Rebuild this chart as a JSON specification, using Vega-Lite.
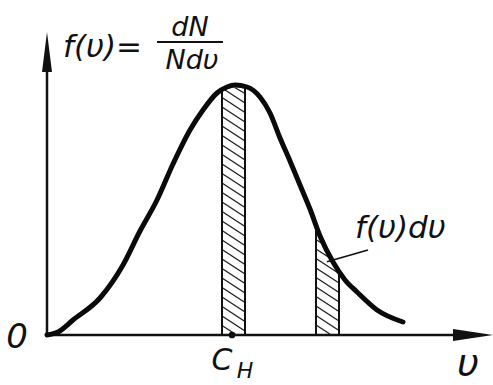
{
  "$schema": "https://vega.github.io/schema/vega-lite/v6.json",
  "width": 493,
  "height": 385,
  "autosize": "none",
  "padding": 0,
  "background": "white",
  "config": {"view": {"stroke": null}},
  "datasets": {
    "curve": [
      {"v": 0, "f": 0}, {"v": 0.275, "f": 0.012}, {"v": 0.65, "f": 0.06}, {"v": 1.325, "f": 0.148},
      {"v": 1.9, "f": 0.28}, {"v": 2.325, "f": 0.416}, {"v": 2.75, "f": 0.54}, {"v": 3.15, "f": 0.684},
      {"v": 3.575, "f": 0.82}, {"v": 3.9, "f": 0.9}, {"v": 4.25, "f": 0.968}, {"v": 4.5, "f": 0.992},
      {"v": 4.7, "f": 1.0}, {"v": 5.0, "f": 0.992}, {"v": 5.325, "f": 0.952}, {"v": 5.575, "f": 0.888},
      {"v": 5.825, "f": 0.788}, {"v": 6.075, "f": 0.696}, {"v": 6.325, "f": 0.6}, {"v": 6.575, "f": 0.504},
      {"v": 6.825, "f": 0.396}, {"v": 7.15, "f": 0.292}, {"v": 7.45, "f": 0.22}, {"v": 7.75, "f": 0.172},
      {"v": 8.25, "f": 0.1}, {"v": 8.9, "f": 0.052}
    ],
    "edges": [
      {"v": 4.375, "f": 0, "f2": 0.985},
      {"v": 4.95, "f": 0, "f2": 0.99},
      {"v": 6.725, "f": 0, "f2": 0.42},
      {"v": 7.3, "f": 0, "f2": 0.255}
    ],
    "hatch": [
      {"v": 4.69, "f": 0.99, "v2": 4.95, "f2": 0.966},
      {"v": 4.375, "f": 0.988, "v2": 4.95, "f2": 0.928},
      {"v": 4.375, "f": 0.95, "v2": 4.95, "f2": 0.89},
      {"v": 4.375, "f": 0.912, "v2": 4.95, "f2": 0.852},
      {"v": 4.375, "f": 0.874, "v2": 4.95, "f2": 0.814},
      {"v": 4.375, "f": 0.836, "v2": 4.95, "f2": 0.776},
      {"v": 4.375, "f": 0.798, "v2": 4.95, "f2": 0.738},
      {"v": 4.375, "f": 0.76, "v2": 4.95, "f2": 0.7},
      {"v": 4.375, "f": 0.722, "v2": 4.95, "f2": 0.662},
      {"v": 4.375, "f": 0.684, "v2": 4.95, "f2": 0.624},
      {"v": 4.375, "f": 0.646, "v2": 4.95, "f2": 0.586},
      {"v": 4.375, "f": 0.608, "v2": 4.95, "f2": 0.548},
      {"v": 4.375, "f": 0.57, "v2": 4.95, "f2": 0.51},
      {"v": 4.375, "f": 0.532, "v2": 4.95, "f2": 0.472},
      {"v": 4.375, "f": 0.494, "v2": 4.95, "f2": 0.434},
      {"v": 4.375, "f": 0.456, "v2": 4.95, "f2": 0.396},
      {"v": 4.375, "f": 0.418, "v2": 4.95, "f2": 0.358},
      {"v": 4.375, "f": 0.38, "v2": 4.95, "f2": 0.32},
      {"v": 4.375, "f": 0.342, "v2": 4.95, "f2": 0.282},
      {"v": 4.375, "f": 0.304, "v2": 4.95, "f2": 0.244},
      {"v": 4.375, "f": 0.266, "v2": 4.95, "f2": 0.206},
      {"v": 4.375, "f": 0.228, "v2": 4.95, "f2": 0.168},
      {"v": 4.375, "f": 0.19, "v2": 4.95, "f2": 0.13},
      {"v": 4.375, "f": 0.152, "v2": 4.95, "f2": 0.092},
      {"v": 4.375, "f": 0.114, "v2": 4.95, "f2": 0.054},
      {"v": 4.375, "f": 0.076, "v2": 4.95, "f2": 0.016},
      {"v": 4.375, "f": 0.038, "v2": 4.74, "f2": 0},
      {"v": 6.725, "f": 0.42, "v2": 6.814, "f2": 0.411},
      {"v": 6.725, "f": 0.382, "v2": 6.991, "f2": 0.354},
      {"v": 6.725, "f": 0.344, "v2": 7.169, "f2": 0.298},
      {"v": 6.725, "f": 0.306, "v2": 7.3, "f2": 0.246},
      {"v": 6.725, "f": 0.268, "v2": 7.3, "f2": 0.208},
      {"v": 6.725, "f": 0.23, "v2": 7.3, "f2": 0.17},
      {"v": 6.725, "f": 0.192, "v2": 7.3, "f2": 0.132},
      {"v": 6.725, "f": 0.154, "v2": 7.3, "f2": 0.094},
      {"v": 6.725, "f": 0.116, "v2": 7.3, "f2": 0.056},
      {"v": 6.725, "f": 0.078, "v2": 7.3, "f2": 0.018},
      {"v": 6.725, "f": 0.04, "v2": 7.11, "f2": 0}
    ],
    "axes": [
      {"v": 0, "f": 0, "v2": 10.575, "f2": 0},
      {"v": 0, "f": 0, "v2": 0, "f2": 1.1}
    ],
    "thin": [
      {"v": 7.0, "f": 0.293, "v2": 8.025, "f2": 0.34},
      {"v": 2.75, "f": 1.172, "v2": 4.4, "f2": 1.172}
    ],
    "xarrow": [{"v": 10.65, "f": 0}],
    "yarrow": [{"v": 0, "f": 1.132}],
    "dot": [{"v": 4.625, "f": 0}],
    "bigtext": [
      {"label": "f(υ)=", "v": 0.4, "f": 1.148},
      {"label": "f(υ)dυ", "v": 7.7, "f": 0.424}
    ],
    "fractext": [
      {"label": "dN", "v": 3.575, "f": 1.228},
      {"label": "Ndυ", "v": 3.625, "f": 1.096}
    ],
    "zero": [{"label": "0", "v": -0.75, "f": -0.012}],
    "cmain": [{"label": "C", "v": 4.375, "f": -0.104}],
    "csub": [{"label": "H", "v": 4.95, "f": -0.144}],
    "vlabel": [{"label": "υ", "v": 10.525, "f": -0.116}]
  },
  "layer": [
    {
      "data": {"name": "axes"},
      "mark": {"type": "rule", "strokeWidth": 2.5, "color": "#111"},
      "encoding": {
        "x": {"field": "v", "type": "quantitative", "scale": {"domain": [-1.175, 11.15], "nice": false, "zero": false}, "axis": null},
        "y": {"field": "f", "type": "quantitative", "scale": {"domain": [-0.2, 1.34], "nice": false, "zero": false}, "axis": null},
        "x2": {"field": "v2"},
        "y2": {"field": "f2"}
      }
    },
    {
      "data": {"name": "hatch"},
      "mark": {"type": "rule", "strokeWidth": 1.4, "color": "#222"},
      "encoding": {
        "x": {"field": "v", "type": "quantitative", "scale": {"domain": [-1.175, 11.15], "nice": false, "zero": false}, "axis": null},
        "y": {"field": "f", "type": "quantitative", "scale": {"domain": [-0.2, 1.34], "nice": false, "zero": false}, "axis": null},
        "x2": {"field": "v2"},
        "y2": {"field": "f2"}
      }
    },
    {
      "data": {"name": "edges"},
      "mark": {"type": "rule", "strokeWidth": 2, "color": "#111"},
      "encoding": {
        "x": {"field": "v", "type": "quantitative", "scale": {"domain": [-1.175, 11.15], "nice": false, "zero": false}, "axis": null},
        "y": {"field": "f", "type": "quantitative", "scale": {"domain": [-0.2, 1.34], "nice": false, "zero": false}, "axis": null},
        "y2": {"field": "f2"}
      }
    },
    {
      "data": {"name": "thin"},
      "mark": {"type": "rule", "strokeWidth": 1.8, "color": "#111"},
      "encoding": {
        "x": {"field": "v", "type": "quantitative", "scale": {"domain": [-1.175, 11.15], "nice": false, "zero": false}, "axis": null},
        "y": {"field": "f", "type": "quantitative", "scale": {"domain": [-0.2, 1.34], "nice": false, "zero": false}, "axis": null},
        "x2": {"field": "v2"},
        "y2": {"field": "f2"}
      }
    },
    {
      "data": {"name": "curve"},
      "mark": {"type": "line", "strokeWidth": 5, "color": "#0a0a0a", "interpolate": "monotone", "strokeCap": "round"},
      "encoding": {
        "x": {"field": "v", "type": "quantitative", "scale": {"domain": [-1.175, 11.15], "nice": false, "zero": false}, "axis": null},
        "y": {"field": "f", "type": "quantitative", "scale": {"domain": [-0.2, 1.34], "nice": false, "zero": false}, "axis": null}
      }
    },
    {
      "data": {"name": "xarrow"},
      "mark": {"type": "point", "shape": "M1,0L-1,-0.3L-1,0.3Z", "size": 1600, "filled": true, "color": "#111", "opacity": 1},
      "encoding": {
        "x": {"field": "v", "type": "quantitative", "scale": {"domain": [-1.175, 11.15], "nice": false, "zero": false}, "axis": null},
        "y": {"field": "f", "type": "quantitative", "scale": {"domain": [-0.2, 1.34], "nice": false, "zero": false}, "axis": null}
      }
    },
    {
      "data": {"name": "yarrow"},
      "mark": {"type": "point", "shape": "M0,-1L0.25,1L-0.25,1Z", "size": 1600, "filled": true, "color": "#111", "opacity": 1},
      "encoding": {
        "x": {"field": "v", "type": "quantitative", "scale": {"domain": [-1.175, 11.15], "nice": false, "zero": false}, "axis": null},
        "y": {"field": "f", "type": "quantitative", "scale": {"domain": [-0.2, 1.34], "nice": false, "zero": false}, "axis": null}
      }
    },
    {
      "data": {"name": "dot"},
      "mark": {"type": "point", "shape": "circle", "size": 45, "filled": true, "color": "#111", "opacity": 1},
      "encoding": {
        "x": {"field": "v", "type": "quantitative", "scale": {"domain": [-1.175, 11.15], "nice": false, "zero": false}, "axis": null},
        "y": {"field": "f", "type": "quantitative", "scale": {"domain": [-0.2, 1.34], "nice": false, "zero": false}, "axis": null}
      }
    },
    {
      "data": {"name": "bigtext"},
      "mark": {"type": "text", "align": "left", "baseline": "middle", "font": "DejaVu Sans", "fontStyle": "italic", "fontSize": 31, "color": "#111"},
      "encoding": {
        "x": {"field": "v", "type": "quantitative", "scale": {"domain": [-1.175, 11.15], "nice": false, "zero": false}, "axis": null},
        "y": {"field": "f", "type": "quantitative", "scale": {"domain": [-0.2, 1.34], "nice": false, "zero": false}, "axis": null},
        "text": {"field": "label"}
      }
    },
    {
      "data": {"name": "fractext"},
      "mark": {"type": "text", "align": "center", "baseline": "middle", "font": "DejaVu Sans", "fontStyle": "italic", "fontSize": 27, "color": "#111"},
      "encoding": {
        "x": {"field": "v", "type": "quantitative", "scale": {"domain": [-1.175, 11.15], "nice": false, "zero": false}, "axis": null},
        "y": {"field": "f", "type": "quantitative", "scale": {"domain": [-0.2, 1.34], "nice": false, "zero": false}, "axis": null},
        "text": {"field": "label"}
      }
    },
    {
      "data": {"name": "zero"},
      "mark": {"type": "text", "align": "center", "baseline": "middle", "font": "DejaVu Sans", "fontStyle": "italic", "fontSize": 34, "color": "#111"},
      "encoding": {
        "x": {"field": "v", "type": "quantitative", "scale": {"domain": [-1.175, 11.15], "nice": false, "zero": false}, "axis": null},
        "y": {"field": "f", "type": "quantitative", "scale": {"domain": [-0.2, 1.34], "nice": false, "zero": false}, "axis": null},
        "text": {"field": "label"}
      }
    },
    {
      "data": {"name": "cmain"},
      "mark": {"type": "text", "align": "center", "baseline": "middle", "font": "DejaVu Sans", "fontStyle": "italic", "fontSize": 30, "color": "#111"},
      "encoding": {
        "x": {"field": "v", "type": "quantitative", "scale": {"domain": [-1.175, 11.15], "nice": false, "zero": false}, "axis": null},
        "y": {"field": "f", "type": "quantitative", "scale": {"domain": [-0.2, 1.34], "nice": false, "zero": false}, "axis": null},
        "text": {"field": "label"}
      }
    },
    {
      "data": {"name": "csub"},
      "mark": {"type": "text", "align": "center", "baseline": "middle", "font": "DejaVu Sans", "fontStyle": "italic", "fontSize": 22, "color": "#111"},
      "encoding": {
        "x": {"field": "v", "type": "quantitative", "scale": {"domain": [-1.175, 11.15], "nice": false, "zero": false}, "axis": null},
        "y": {"field": "f", "type": "quantitative", "scale": {"domain": [-0.2, 1.34], "nice": false, "zero": false}, "axis": null},
        "text": {"field": "label"}
      }
    },
    {
      "data": {"name": "vlabel"},
      "mark": {"type": "text", "align": "center", "baseline": "middle", "font": "DejaVu Sans", "fontStyle": "italic", "fontSize": 38, "color": "#111"},
      "encoding": {
        "x": {"field": "v", "type": "quantitative", "scale": {"domain": [-1.175, 11.15], "nice": false, "zero": false}, "axis": null},
        "y": {"field": "f", "type": "quantitative", "scale": {"domain": [-0.2, 1.34], "nice": false, "zero": false}, "axis": null},
        "text": {"field": "label"}
      }
    }
  ]
}
